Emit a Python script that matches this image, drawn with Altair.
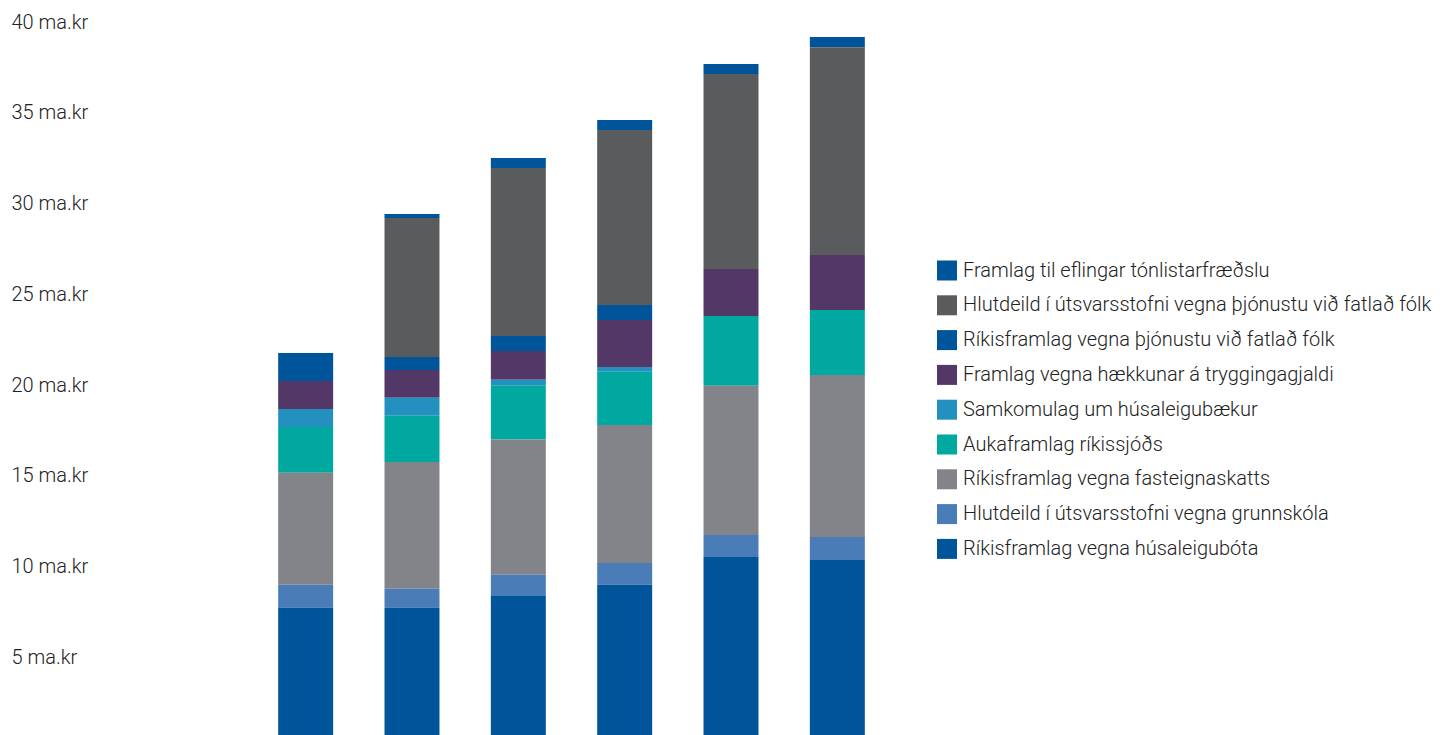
import altair as alt
import pandas as pd

years = ["Ár 1", "Ár 2", "Ár 3", "Ár 4", "Ár 5", "Ár 6"]

# Legend order (top of legend = top of stack)
series = [
    "Framlag til eflingar tónlistarfræðslu",
    "Hlutdeild í útsvarsstofni vegna þjónustu við fatlað fólk",
    "Ríkisframlag vegna þjónustu við fatlað fólk",
    "Framlag vegna hækkunar á tryggingagjaldi",
    "Samkomulag um húsaleigubækur",
    "Aukaframlag ríkissjóðs",
    "Ríkisframlag vegna fasteignaskatts",
    "Hlutdeild í útsvarsstofni vegna grunnskóla",
    "Ríkisframlag vegna húsaleigubóta",
]
colors = ["#00559a", "#5a5b5d", "#00559a", "#523767", "#2490bf",
          "#00a89f", "#838489", "#4a7cb8", "#00559a"]

tonlist = [0.00, 0.22, 0.55, 0.55, 0.55, 0.56]
hlut_fatl = [0.00, 7.66, 9.25, 9.63, 10.74, 11.44]
rik_fatl = [1.54, 0.71, 0.83, 0.83, 0.00, 0.00]
trygg = [1.54, 1.54, 1.59, 2.59, 2.59, 3.03]
samkomulag = [0.99, 0.98, 0.32, 0.27, 0.00, 0.00]
aukaframlag = [2.53, 2.55, 2.97, 2.92, 3.85, 3.58]
fasteign = [6.17, 6.99, 7.45, 7.60, 8.21, 8.92]
grunnskoli = [1.25, 1.03, 1.16, 1.21, 1.21, 1.27]
husaleiga = [7.75, 7.75, 8.39, 9.00, 10.54, 10.37]

values = [tonlist, hlut_fatl, rik_fatl, trygg, samkomulag,
          aukaframlag, fasteign, grunnskoli, husaleiga]

tick_values = [5, 10, 15, 20, 25, 30, 35, 40]

rows = []
for si, (name, vals) in enumerate(zip(series, values)):
    for yi, yr in enumerate(years):
        rows.append({"year": yr, "series": name, "value": vals[yi],
                     "order": len(series) - si})
df = pd.DataFrame(rows)

chart = alt.Chart(df).mark_bar(clip=True).encode(
    x=alt.X("year:N", sort=years, axis=None,
            scale=alt.Scale(paddingInner=0.483, paddingOuter=0.5)),
    y=alt.Y("value:Q", stack="zero",
            scale=alt.Scale(domain=[0.73, 40], clamp=True, nice=False, zero=False),
            axis=alt.Axis(values=tick_values, title=None, domain=False, ticks=False,
                          grid=False, labelAlign="left", labelBaseline="middle",
                          labelPadding=214, labelFontSize=20, labelFont="Roboto",
                          labelFontWeight=300,
                          labelColor="#222222", labelFlush=False, labelOverlap=False,
                          labelExpr="datum.value + ' ma.kr'")),
    color=alt.Color("series:N",
                    scale=alt.Scale(domain=series, range=colors),
                    legend=alt.Legend(orient="none", legendX=712, legendY=238.5,
                                      title=None, symbolType="square",
                                      symbolSize=400, symbolStrokeWidth=0,
                                      symbolOpacity=1,
                                      labelFontSize=20, labelFont="Roboto",
                                      labelFontWeight=300,
                                      labelColor="#222222", labelLimit=700,
                                      labelOffset=6, rowPadding=14.8, padding=0)),
    order=alt.Order("order:Q", sort="ascending"),
).properties(
    width=693, height=713,
    autosize=alt.AutoSizeParams(type="none"),
    padding={"left": 217, "top": 14, "right": 525, "bottom": 0},
).configure(background="white").configure_view(stroke=None, strokeWidth=0)

chart.save("out.html", embed_options={"renderer": "svg", "actions": False})
